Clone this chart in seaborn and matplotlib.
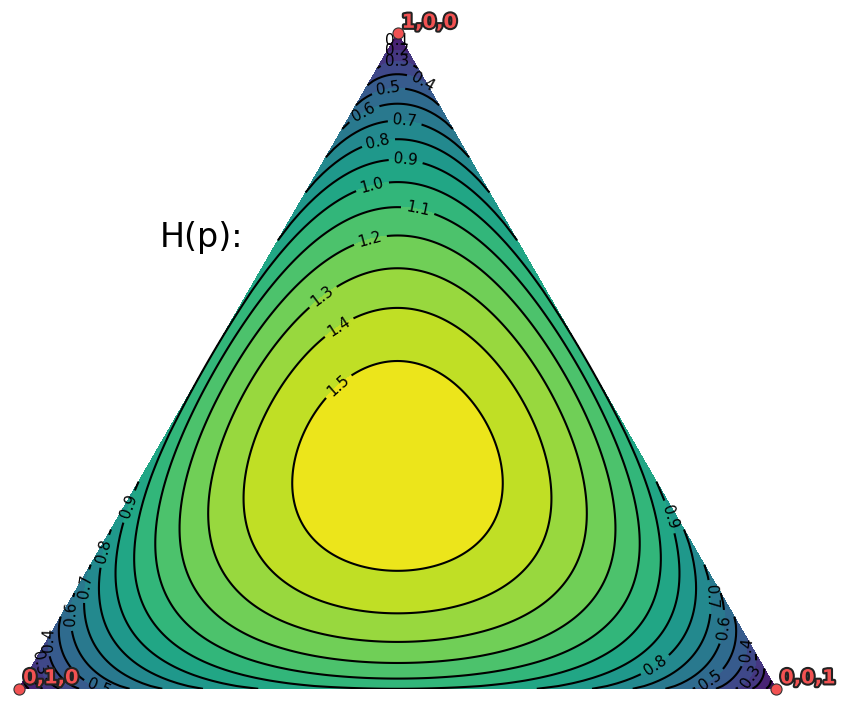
import numpy as np
import matplotlib
matplotlib.use("Agg")
import matplotlib.pyplot as plt
import matplotlib.tri as mtri
import matplotlib.patheffects as pe
import seaborn as sns

# contour levels of the entropy surface (bits)
line_levels = [0.1, 0.2, 0.3, 0.4, 0.5, 0.6, 0.7, 0.8, 0.9, 1.0, 1.1, 1.2, 1.3, 1.4, 1.5]
fill_levels = [0.0] + line_levels + [1.6]
corner_probs = [(1, 0, 0), (0, 1, 0), (0, 0, 1)]
corner_labels = ["1,0,0", "0,1,0", "0,0,1"]
title_text = "H(p):"

sns.set_theme(style="white")
plt.rcParams["text.color"] = "black"
cmap = sns.color_palette("viridis", as_cmap=True)

h = np.sqrt(3) / 2


def to_xy(p1, p2, p3):
    return p3 + 0.5 * p1, h * p1


# barycentric grid over the simplex
n = 240
pts = []
for i in range(n + 1):
    for j in range(n + 1 - i):
        pts.append((i / n, j / n, (n - i - j) / n))
P = np.array(pts)
with np.errstate(divide="ignore", invalid="ignore"):
    H = -np.nansum(np.where(P > 0, P * np.log2(P), 0.0), axis=1)
x, y = to_xy(P[:, 0], P[:, 1], P[:, 2])
tri = mtri.Triangulation(x, y)

fig = plt.figure(figsize=(8.48, 7.04), dpi=100)
ax = fig.add_axes([19 / 848, 15 / 704, 757 / 848, 656 / 704])

ax.tricontourf(tri, H, levels=fill_levels, cmap=cmap, vmin=0, vmax=1.6)
cs = ax.tricontour(tri, H, levels=line_levels, colors="black", linewidths=1.5)

# label positions (pixel locations from the reference, turned into data units)
label_px = [(397, 40), (397, 48), (397, 60), (424, 80), (388, 88), (362, 110),
            (405, 120), (378, 141), (406, 158), (372, 185), (418, 209), (370, 239),
            (322, 296), (338, 326), (338, 386),
            (127, 506), (103, 551), (84, 586), (69, 614), (52, 640), (45, 662), (100, 686),
            (670, 517), (713, 597), (722, 627), (655, 665), (710, 680), (745, 650), (748, 675)]
manual = [((px - 19) / 757, (689 - py) / 757) for px, py in label_px]
ax.clabel(cs, inline=True, fmt="%1.1f", fontsize=11, colors="black", manual=manual)

red = "#f25252"
outline = [pe.withStroke(linewidth=3, foreground="#222222")]
for prob, lab in zip(corner_probs, corner_labels):
    cx, cy = to_xy(*prob)
    ax.plot(cx, cy, "o", color=red, markersize=8, markeredgecolor="#333333",
            markeredgewidth=0.8, clip_on=False, zorder=5)
    ax.annotate(lab, (cx, cy), xytext=(3, 1), textcoords="offset points",
                ha="left", va="bottom", fontsize=14, fontweight="bold",
                color=red, path_effects=outline, zorder=6)

ax.text(0.2417, 0.5958, title_text, fontsize=24, color="black", ha="center", va="center")

ax.set_xlim(0, 1)
ax.set_ylim(0, h)
ax.set_aspect("equal")
ax.axis("off")

fig.savefig("out.png", dpi=100)
